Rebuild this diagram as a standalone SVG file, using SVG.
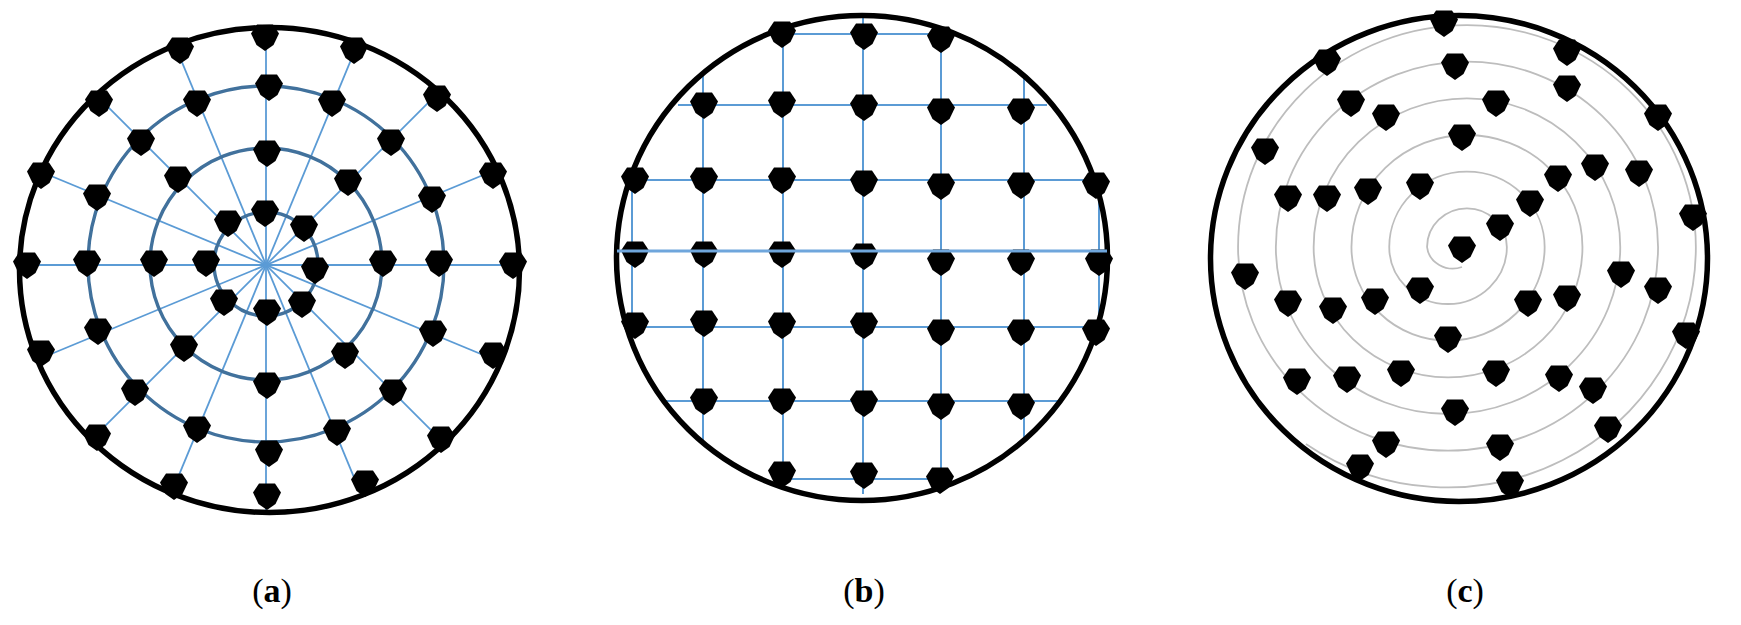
<svg xmlns="http://www.w3.org/2000/svg" xmlns:xlink="http://www.w3.org/1999/xlink" width="1741" height="625" viewBox="0 0 1741 625">
<style>
.rim{fill:none;stroke:#000;stroke-width:5.5}
.spoke{stroke:#5b9bd5;stroke-width:1.8;fill:none}
.ring{stroke:#41719c;stroke-width:3.4;fill:none}
.grid{stroke:#5b9bd5;stroke-width:2;fill:none}
.mid{stroke:#6fa6dc;stroke-width:3;fill:none}
.spiral{stroke:#bdbdbd;stroke-width:1.8;fill:none}
.lbl{font-family:"Liberation Serif","DejaVu Serif",serif;font-size:34px;fill:#000}
</style>
<defs>
<path id="dot" d="M-8,-12.5 L8,-12.5 L14,-3.5 L8.5,8 L0,14 L-8.5,8 L-14,-3.5 Z" fill="#000"/>
<clipPath id="clipA"><ellipse cx="269.5" cy="270" rx="250" ry="242.5"/></clipPath>
</defs>

<!-- Panel (a) -->
<g id="connectors-a" clip-path="url(#clipA)">
<line class="spoke" x1="6" y1="265" x2="526" y2="265"/>
<line class="spoke" x1="25.8" y1="165.5" x2="506.2" y2="364.5"/>
<line class="spoke" x1="82.2" y1="81.2" x2="449.8" y2="448.8"/>
<line class="spoke" x1="166.5" y1="24.8" x2="365.5" y2="505.2"/>
<line class="spoke" x1="266" y1="5" x2="266" y2="525"/>
<line class="spoke" x1="365.5" y1="24.8" x2="166.5" y2="505.2"/>
<line class="spoke" x1="449.8" y1="81.2" x2="82.2" y2="448.8"/>
<line class="spoke" x1="506.2" y1="165.5" x2="25.8" y2="364.5"/>
<circle class="ring" cx="266" cy="264" r="52"/>
<circle class="ring" cx="266" cy="264" r="116"/>
<circle class="ring" cx="266" cy="264" r="178"/>
</g>
<ellipse id="rim-a" class="rim" cx="269.5" cy="270" rx="250" ry="242.5"/>
<g id="nodes-a">
<g id="a-o1"><use href="#dot" x="265" y="37"/></g>
<g id="a-o2"><use href="#dot" x="180" y="50"/></g>
<g id="a-o3"><use href="#dot" x="354" y="50"/></g>
<g id="a-o4"><use href="#dot" x="99" y="103"/></g>
<g id="a-o5"><use href="#dot" x="437" y="98"/></g>
<g id="a-o6"><use href="#dot" x="41" y="175"/></g>
<g id="a-o7"><use href="#dot" x="493" y="175"/></g>
<g id="a-o8"><use href="#dot" x="27" y="265"/></g>
<g id="a-o9"><use href="#dot" x="513" y="265"/></g>
<g id="a-o10"><use href="#dot" x="41" y="353"/></g>
<g id="a-o11"><use href="#dot" x="493" y="355"/></g>
<g id="a-o12"><use href="#dot" x="97" y="437"/></g>
<g id="a-o13"><use href="#dot" x="441" y="439"/></g>
<g id="a-o14"><use href="#dot" x="174" y="486"/></g>
<g id="a-o15"><use href="#dot" x="365" y="483"/></g>
<g id="a-o16"><use href="#dot" x="267" y="496"/></g>
<g id="a-t1"><use href="#dot" x="269" y="87"/></g>
<g id="a-t2"><use href="#dot" x="197" y="103"/></g>
<g id="a-t3"><use href="#dot" x="332" y="103"/></g>
<g id="a-t4"><use href="#dot" x="141" y="142"/></g>
<g id="a-t5"><use href="#dot" x="391" y="142"/></g>
<g id="a-t6"><use href="#dot" x="97" y="197"/></g>
<g id="a-t7"><use href="#dot" x="432" y="199"/></g>
<g id="a-t8"><use href="#dot" x="87" y="263"/></g>
<g id="a-t9"><use href="#dot" x="439" y="263"/></g>
<g id="a-t10"><use href="#dot" x="98" y="331"/></g>
<g id="a-t11"><use href="#dot" x="433" y="333"/></g>
<g id="a-t12"><use href="#dot" x="135" y="392"/></g>
<g id="a-t13"><use href="#dot" x="393" y="392"/></g>
<g id="a-t14"><use href="#dot" x="197" y="429"/></g>
<g id="a-t15"><use href="#dot" x="337" y="432"/></g>
<g id="a-t16"><use href="#dot" x="269" y="453"/></g>
<g id="a-s1"><use href="#dot" x="267" y="153"/></g>
<g id="a-s2"><use href="#dot" x="178" y="179"/></g>
<g id="a-s3"><use href="#dot" x="348" y="182"/></g>
<g id="a-s4"><use href="#dot" x="154" y="263"/></g>
<g id="a-s5"><use href="#dot" x="383" y="263"/></g>
<g id="a-s6"><use href="#dot" x="184" y="348"/></g>
<g id="a-s7"><use href="#dot" x="345" y="355"/></g>
<g id="a-s8"><use href="#dot" x="267" y="385"/></g>
<g id="a-i1"><use href="#dot" x="265" y="213"/></g>
<g id="a-i2"><use href="#dot" x="228" y="223"/></g>
<g id="a-i3"><use href="#dot" x="304" y="228"/></g>
<g id="a-i4"><use href="#dot" x="206" y="263"/></g>
<g id="a-i5"><use href="#dot" x="315" y="270"/></g>
<g id="a-i6"><use href="#dot" x="224" y="302"/></g>
<g id="a-i7"><use href="#dot" x="302" y="304"/></g>
<g id="a-i8"><use href="#dot" x="267" y="312"/></g>
</g>

<!-- Panel (b) -->
<g id="connectors-b">
<line class="grid" x1="783" y1="34" x2="941" y2="34"/>
<line class="grid" x1="678" y1="105" x2="1047" y2="105"/>
<line class="grid" x1="632" y1="180" x2="1099" y2="180"/>
<line class="grid" x1="632" y1="327" x2="1099" y2="327"/>
<line class="grid" x1="666" y1="401" x2="1058" y2="401"/>
<line class="grid" x1="783" y1="479" x2="941" y2="479"/>
<line class="grid" x1="632" y1="180" x2="632" y2="327"/>
<line class="grid" x1="703" y1="74" x2="703" y2="440"/>
<line class="grid" x1="783" y1="26" x2="783" y2="481"/>
<line class="grid" x1="863" y1="18" x2="863" y2="494"/>
<line class="grid" x1="941" y1="31" x2="941" y2="481"/>
<line class="grid" x1="1024" y1="78" x2="1024" y2="437"/>
<line class="grid" x1="1099" y1="180" x2="1099" y2="327"/>
</g>
<ellipse id="rim-b" class="rim" cx="862" cy="258" rx="245.5" ry="242.5"/>
<g id="nodes-b">
<g id="b-r1c3"><use href="#dot" x="782" y="34"/></g>
<g id="b-r1c4"><use href="#dot" x="864" y="36"/></g>
<g id="b-r1c5"><use href="#dot" x="941" y="39"/></g>
<g id="b-r2c2"><use href="#dot" x="704" y="105"/></g>
<g id="b-r2c3"><use href="#dot" x="782" y="104"/></g>
<g id="b-r2c4"><use href="#dot" x="864" y="107"/></g>
<g id="b-r2c5"><use href="#dot" x="941" y="111"/></g>
<g id="b-r2c6"><use href="#dot" x="1021" y="111"/></g>
<g id="b-r3c1"><use href="#dot" x="635" y="180"/></g>
<g id="b-r3c2"><use href="#dot" x="704" y="180"/></g>
<g id="b-r3c3"><use href="#dot" x="782" y="180"/></g>
<g id="b-r3c4"><use href="#dot" x="864" y="183"/></g>
<g id="b-r3c5"><use href="#dot" x="941" y="186"/></g>
<g id="b-r3c6"><use href="#dot" x="1021" y="185"/></g>
<g id="b-r3c7"><use href="#dot" x="1096" y="185"/></g>
<g id="b-r4c1"><use href="#dot" x="635" y="254"/></g>
<g id="b-r4c2"><use href="#dot" x="704" y="254"/></g>
<g id="b-r4c3"><use href="#dot" x="782" y="254"/></g>
<g id="b-r4c4"><use href="#dot" x="864" y="256"/></g>
<g id="b-r4c5"><use href="#dot" x="941" y="262"/></g>
<g id="b-r4c6"><use href="#dot" x="1021" y="262"/></g>
<g id="b-r4c7"><use href="#dot" x="1099" y="262"/></g>
<g id="b-r5c1"><use href="#dot" x="635" y="325"/></g>
<g id="b-r5c2"><use href="#dot" x="704" y="323"/></g>
<g id="b-r5c3"><use href="#dot" x="782" y="325"/></g>
<g id="b-r5c4"><use href="#dot" x="864" y="325"/></g>
<g id="b-r5c5"><use href="#dot" x="941" y="332"/></g>
<g id="b-r5c6"><use href="#dot" x="1021" y="332"/></g>
<g id="b-r5c7"><use href="#dot" x="1096" y="332"/></g>
<g id="b-r6c2"><use href="#dot" x="704" y="401"/></g>
<g id="b-r6c3"><use href="#dot" x="782" y="401"/></g>
<g id="b-r6c4"><use href="#dot" x="864" y="403"/></g>
<g id="b-r6c5"><use href="#dot" x="941" y="406"/></g>
<g id="b-r6c6"><use href="#dot" x="1021" y="406"/></g>
<g id="b-r7c3"><use href="#dot" x="782" y="474"/></g>
<g id="b-r7c4"><use href="#dot" x="864" y="475"/></g>
<g id="b-r7c5"><use href="#dot" x="940" y="480"/></g>
</g>
<g id="connector-b-mid">
<line class="mid" x1="617" y1="251" x2="1107" y2="251"/>
</g>

<!-- Panel (c) -->
<g id="connector-c">
<path class="spiral" d="M1462,267 A26,24 0 0 1 1427.05,247 A39.9,38.7 0 0 1 1506.85,247 A58.8,57 0 0 1 1389.25,247 A77.7,75.4 0 0 1 1544.65,247 A96.6,93.7 0 0 1 1351.45,247 A115.5,112 0 0 1 1582.45,247 A134.4,130.4 0 0 1 1313.65,247 A153.3,148.7 0 0 1 1620.25,247 A172.2,167 0 0 1 1275.85,247 A191.1,185.4 0 0 1 1658.05,247 A210,203.7 0 0 1 1238.05,247 A228.9,222 0 0 1 1695.85,247 A247.8,240.4 0 0 1 1305.9,443.9"/>
</g>
<ellipse id="rim-c" class="rim" cx="1459" cy="258.5" rx="248.5" ry="243"/>
<g id="nodes-c">
<g id="c-1"><use href="#dot" x="1444" y="23"/></g>
<g id="c-2"><use href="#dot" x="1567" y="52"/></g>
<g id="c-3"><use href="#dot" x="1327" y="62"/></g>
<g id="c-4"><use href="#dot" x="1455" y="66"/></g>
<g id="c-5"><use href="#dot" x="1567" y="88"/></g>
<g id="c-6"><use href="#dot" x="1351" y="103"/></g>
<g id="c-7"><use href="#dot" x="1496" y="103"/></g>
<g id="c-8"><use href="#dot" x="1386" y="117"/></g>
<g id="c-9"><use href="#dot" x="1658" y="117"/></g>
<g id="c-10"><use href="#dot" x="1462" y="137"/></g>
<g id="c-11"><use href="#dot" x="1265" y="151"/></g>
<g id="c-12"><use href="#dot" x="1595" y="167"/></g>
<g id="c-13"><use href="#dot" x="1639" y="173"/></g>
<g id="c-14"><use href="#dot" x="1558" y="178"/></g>
<g id="c-15"><use href="#dot" x="1288" y="198"/></g>
<g id="c-16"><use href="#dot" x="1327" y="198"/></g>
<g id="c-17"><use href="#dot" x="1368" y="191"/></g>
<g id="c-18"><use href="#dot" x="1420" y="186"/></g>
<g id="c-19"><use href="#dot" x="1530" y="203"/></g>
<g id="c-20"><use href="#dot" x="1693" y="217"/></g>
<g id="c-21"><use href="#dot" x="1500" y="227"/></g>
<g id="c-22"><use href="#dot" x="1462" y="249"/></g>
<g id="c-23"><use href="#dot" x="1245" y="276"/></g>
<g id="c-24"><use href="#dot" x="1621" y="274"/></g>
<g id="c-25"><use href="#dot" x="1420" y="290"/></g>
<g id="c-26"><use href="#dot" x="1288" y="303"/></g>
<g id="c-27"><use href="#dot" x="1333" y="310"/></g>
<g id="c-28"><use href="#dot" x="1375" y="301"/></g>
<g id="c-29"><use href="#dot" x="1528" y="303"/></g>
<g id="c-30"><use href="#dot" x="1567" y="298"/></g>
<g id="c-31"><use href="#dot" x="1658" y="290"/></g>
<g id="c-32"><use href="#dot" x="1686" y="335"/></g>
<g id="c-33"><use href="#dot" x="1448" y="339"/></g>
<g id="c-34"><use href="#dot" x="1297" y="381"/></g>
<g id="c-35"><use href="#dot" x="1347" y="379"/></g>
<g id="c-36"><use href="#dot" x="1401" y="373"/></g>
<g id="c-37"><use href="#dot" x="1496" y="373"/></g>
<g id="c-38"><use href="#dot" x="1559" y="378"/></g>
<g id="c-39"><use href="#dot" x="1593" y="390"/></g>
<g id="c-40"><use href="#dot" x="1455" y="412"/></g>
<g id="c-41"><use href="#dot" x="1608" y="429"/></g>
<g id="c-42"><use href="#dot" x="1386" y="444"/></g>
<g id="c-43"><use href="#dot" x="1500" y="447"/></g>
<g id="c-44"><use href="#dot" x="1360" y="467"/></g>
<g id="c-45"><use href="#dot" x="1510" y="484"/></g>
</g>

<!-- Labels -->
<g id="labels">
<text class="lbl" x="272" y="602" text-anchor="middle">(<tspan font-weight="bold">a</tspan>)</text>
<text class="lbl" x="864" y="602" text-anchor="middle">(<tspan font-weight="bold">b</tspan>)</text>
<text class="lbl" x="1465" y="602" text-anchor="middle">(<tspan font-weight="bold">c</tspan>)</text>
</g>
</svg>
